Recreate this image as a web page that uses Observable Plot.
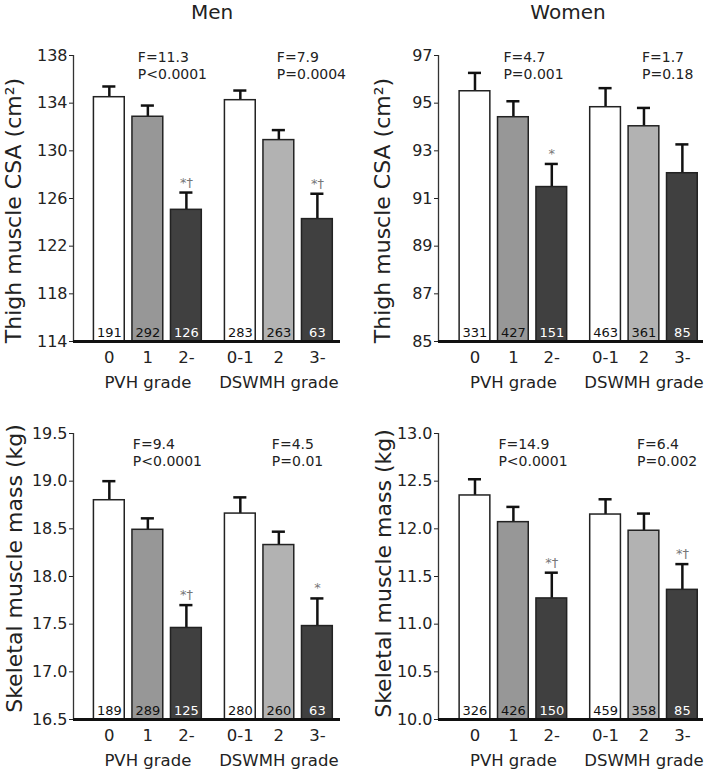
<!DOCTYPE html>
<html>
<head>
<meta charset="utf-8">
<script src="https://cdn.jsdelivr.net/npm/d3@7"></script>
<script src="https://cdn.jsdelivr.net/npm/@observablehq/plot@0.6"></script>
<style>
  html, body { margin: 0; padding: 0; background: #fff; }
  #root { position: relative; width: 709px; height: 774px; font-family: "DejaVu Sans", sans-serif; color: #222; }
  .title { position: absolute; top: 0; height: 24px; line-height: 24px; font-size: 20px; text-align: center; width: 200px; }
  .panel { position: absolute; }
</style>
</head>
<body>
<div id="root">
  <div class="title" style="left:112px">Men</div>
  <div class="title" style="left:468px">Women</div>
  <div class="panel" id="p1" style="left:0px;top:28px"></div>
  <div class="panel" id="p2" style="left:354px;top:28px"></div>
  <div class="panel" id="p3" style="left:0px;top:406px"></div>
  <div class="panel" id="p4" style="left:354px;top:406px"></div>
</div>
<script>
// ---------- data ----------
const categories = ["0", "1", "2-", "0-1", "2", "3-"];
const groupNames = ["PVH grade", "DSWMH grade"];
const groupOf = [0, 0, 0, 1, 1, 1];

// Men, thigh muscle CSA (cm²)
const menCSA = [134.5, 132.86, 125.05, 134.25, 130.9, 124.27];
const menCSAse = [0.9, 0.94, 1.45, 0.81, 0.84, 2.13];
const menCSAn = [191, 292, 126, 283, 263, 63];
const menCSAsig = ["", "", "*†", "", "", "*†"];
const menCSAstats = ["F=11.3\nP<0.0001", "F=7.9\nP=0.0004"];
const csaMenTicks = [114, 118, 122, 126, 130, 134, 138];

// Women, thigh muscle CSA (cm²)
const womenCSA = [95.5, 94.41, 91.48, 94.83, 94.03, 92.06];
const womenCSAse = [0.77, 0.67, 0.97, 0.8, 0.77, 1.21];
const womenCSAn = [331, 427, 151, 463, 361, 85];
const womenCSAsig = ["", "", "*", "", "", ""];
const womenCSAstats = ["F=4.7\nP=0.001", "F=1.7\nP=0.18"];
const csaWomenTicks = [85, 87, 89, 91, 93, 95, 97];

// Men, skeletal muscle mass (kg)
const menSMM = [18.8, 18.49, 17.46, 18.66, 18.33, 17.48];
const menSMMse = [0.2, 0.12, 0.24, 0.17, 0.14, 0.29];
const menSMMn = [189, 289, 125, 280, 260, 63];
const menSMMsig = ["", "", "*†", "", "", "*"];
const menSMMstats = ["F=9.4\nP<0.0001", "F=4.5\nP=0.01"];
const smmMenTicks = [16.5, 17.0, 17.5, 18.0, 18.5, 19.0, 19.5];

// Women, skeletal muscle mass (kg)
const womenSMM = [12.35, 12.07, 11.27, 12.15, 11.98, 11.36];
const womenSMMse = [0.17, 0.16, 0.27, 0.16, 0.18, 0.27];
const womenSMMn = [326, 426, 150, 459, 358, 85];
const womenSMMsig = ["", "", "*†", "", "", "*†"];
const womenSMMstats = ["F=14.9\nP<0.0001", "F=6.4\nP=0.002"];
const smmWomenTicks = [10.0, 10.5, 11.0, 11.5, 12.0, 12.5, 13.0];

// ---------- style ----------
const barFills = ["#ffffff", "#979797", "#404040", "#ffffff", "#b2b2b2", "#404040"];
const countFills = ["#111", "#111", "#fff", "#111", "#111", "#fff"];
const FONT = "DejaVu Sans";

function panel(cfg) {
  const rows = categories.map((c, i) => ({
    c,
    pos: i + (groupOf[i] === 1 ? 0.4 : 0),
    v: cfg.values[i],
    top: cfg.values[i] + cfg.se[i],
    n: cfg.n[i],
    sig: cfg.sig[i],
    fill: barFills[i],
    tfill: countFills[i]
  }));
  const groups = groupNames.map((g, gi) => {
    const r = rows.filter((d, i) => groupOf[i] === gi);
    return {g, mid: d3.mean(r, d => d.pos), stat: cfg.stats[gi]};
  });
  const y0 = cfg.ticks[0];
  const y1 = cfg.ticks[cfg.ticks.length - 1];
  const xd = cfg.xDomain;
  const statMarks = groups.map((grp, gi) =>
    Plot.text([grp], {x: "mid", frameAnchor: "top", text: "stat", textAnchor: "start", lineAnchor: "top",
      dx: cfg.statDx[gi], dy: cfg.statDy, fontSize: 14, lineHeight: 1.2, fill: "#222"}));
  return Plot.plot({
    width: cfg.width,
    height: 366,
    marginLeft: cfg.marginLeft,
    marginRight: cfg.marginRight,
    marginTop: 27,
    marginBottom: 53,
    style: {fontFamily: FONT, fontSize: "16px", color: "#222", background: "white", overflow: "visible"},
    x: {domain: xd, axis: null},
    y: {domain: [y0, y1], ticks: cfg.ticks, tickSize: 4, tickPadding: 2, tickFormat: cfg.fmt, label: null},
    color: {type: "identity"},
    marks: [
      Plot.ruleX([xd[0]], {stroke: "#333", strokeWidth: 1.3}),
      Plot.ruleX(rows, {x: "pos", y1: "v", y2: "top", stroke: "#111", strokeWidth: 2.5}),
      Plot.ruleY(rows, {y: "top", x1: d => d.pos - 0.17, x2: d => d.pos + 0.17, stroke: "#111", strokeWidth: 2.5}),
      Plot.rect(rows, {x1: d => d.pos - 0.4, x2: d => d.pos + 0.4, y1: y0, y2: "v", fill: "fill", stroke: "#222", strokeWidth: 1.5}),
      Plot.ruleY([y0], {stroke: "#111", strokeWidth: 3}),
      Plot.text(rows, {x: "pos", y: y0, text: d => String(d.n), dy: -9, fill: "tfill", fontSize: 13}),
      Plot.text(rows.filter(d => d.sig), {x: "pos", y: "top", text: "sig", lineAnchor: "bottom", dy: -6, fill: "#777", fontSize: 13}),
      Plot.text(rows, {x: "pos", frameAnchor: "bottom", text: "c", dy: 21, fontSize: 16.5, fill: "#222"}),
      Plot.text(groups, {x: "mid", frameAnchor: "bottom", text: "g", dy: 46, fontSize: 16.5, fill: "#222"}),
      ...statMarks,
      Plot.text([cfg.yLabel], {frameAnchor: "left", textAnchor: "middle", rotate: -90, dx: cfg.labelDx, dy: cfg.labelDy, fontSize: 22, fill: "#222"})
    ]
  });
}

function render(id, cfg) {
  document.getElementById(id).appendChild(panel(cfg));
}

const fmt0 = d => d3.format("d")(d);
const fmt1 = d => d3.format(".1f")(d);

render("p1", {values: menCSA, se: menCSAse, n: menCSAn, sig: menCSAsig, stats: menCSAstats, ticks: csaMenTicks, fmt: fmt0,
  yLabel: "Thigh muscle CSA (cm²)", width: 354, marginLeft: 73, marginRight: 14, xDomain: [-0.93, 6.0],
  statDx: [-10, -2], statDy: -5, labelDx: -60, labelDy: 12});
render("p2", {values: womenCSA, se: womenCSAse, n: womenCSAn, sig: womenCSAsig, stats: womenCSAstats, ticks: csaWomenTicks, fmt: fmt0,
  yLabel: "Thigh muscle CSA (cm²)", width: 355, marginLeft: 84, marginRight: 6, xDomain: [-0.95, 5.95],
  statDx: [-10, -2], statDy: -5, labelDx: -56, labelDy: 12});
render("p3", {values: menSMM, se: menSMMse, n: menSMMn, sig: menSMMsig, stats: menSMMstats, ticks: smmMenTicks, fmt: fmt1,
  yLabel: "Skeletal muscle mass (kg)", width: 354, marginLeft: 73, marginRight: 14, xDomain: [-0.93, 6.0],
  statDx: [-15, -7], statDy: 4, labelDx: -59, labelDy: -8});
render("p4", {values: womenSMM, se: womenSMMse, n: womenSMMn, sig: womenSMMsig, stats: womenSMMstats, ticks: smmWomenTicks, fmt: fmt1,
  yLabel: "Skeletal muscle mass (kg)", width: 355, marginLeft: 84, marginRight: 6, xDomain: [-0.95, 5.95],
  statDx: [-15, -7], statDy: 4, labelDx: -55, labelDy: -3});
</script>
</body>
</html>
